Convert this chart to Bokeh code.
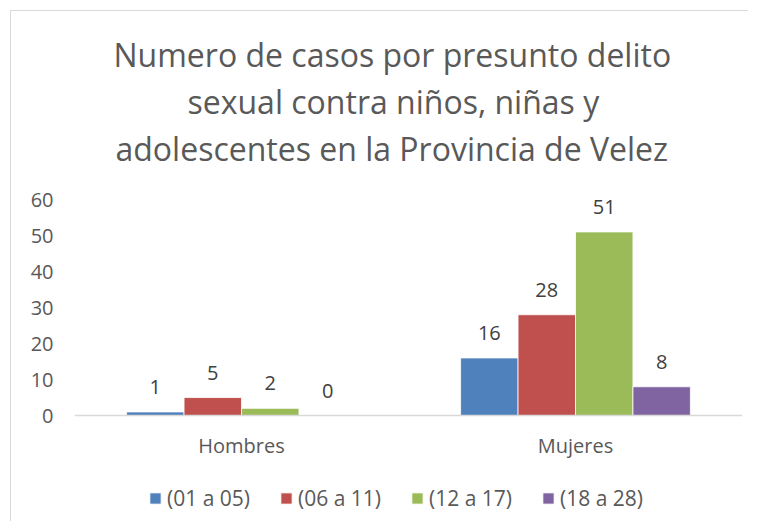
from bokeh.plotting import figure
from bokeh.models import (FactorRange, Range1d, ColumnDataSource, Title, Legend, LegendItem,
                          LabelSet, Span)
from bokeh.core.properties import value
from bokeh.transform import dodge
from bokeh.embed import file_html
from bokeh.resources import INLINE

# ---- data ----
categories = ["Hombres", "Mujeres"]
series_names = ["(01 a 05)", "(06 a 11)", "(12 a 17)", "(18 a 28)"]
val_01_05 = [1, 16]
val_06_11 = [5, 28]
val_12_17 = [2, 51]
val_18_28 = [0, 8]
title_lines = ["Numero de casos por presunto delito",
               "sexual contra niños, niñas y",
               "adolescentes en la Provincia de Velez"]
y_ticks = [0, 10, 20, 30, 40, 50, 60]

colors = ["#4F81BD", "#C0504D", "#9BBB59", "#8064A2"]
FONT = "Open Sans"
title_left_offsets = [39, 113, 41]   # pixel indent of each (left-aligned) title line

p = figure(width=738, height=511, x_range=FactorRange(factors=categories),
           y_range=Range1d(-29.7, 60), output_backend="svg", toolbar_location=None,
           min_border_left=63, min_border_right=7, min_border_bottom=0, min_border_top=188)
p.margin = (10, 0, 0, 10)
p.styles = {"border-top": "1px solid #d9d9d9", "border-left": "1px solid #d9d9d9"}
p.outline_line_color = None
p.background_fill_color = "white"
p.border_fill_color = "white"
p.xgrid.visible = False
p.ygrid.visible = False
p.xaxis.visible = False

src = ColumnDataSource(dict(cat=categories, v0=val_01_05, v1=val_06_11, v2=val_12_17, v3=val_18_28,
                            t0=[str(v) for v in val_01_05], t1=[str(v) for v in val_06_11],
                            t2=[str(v) for v in val_12_17], t3=[str(v) for v in val_18_28],
                            zero=[0] * len(categories)))

bw = 0.172
offsets = [-1.5 * bw, -0.5 * bw, 0.5 * bw, 1.5 * bw]
items = []
for i, (name, col) in enumerate(zip(series_names, colors)):
    r = p.vbar(x=dodge("cat", offsets[i], range=p.x_range), top=f"v{i}", bottom=0, width=bw,
               source=src, fill_color=col, line_color="white", line_width=0.8)
    items.append(LegendItem(label=name, renderers=[r]))
    lab = LabelSet(x=dodge("cat", offsets[i], range=p.x_range), y=f"v{i}", text=f"t{i}", source=src,
                   text_align="center", text_baseline="bottom", y_offset=18,
                   text_font=value(FONT), text_font_size="20px", text_color="#404040")
    p.add_layout(lab)

# category axis line and labels
p.add_layout(Span(location=0, dimension="width", line_color="#d9d9d9", line_width=1.5))
cat_labels = LabelSet(x="cat", y="zero", text="cat", source=src, text_align="center",
                      text_baseline="middle", y_offset=-30, text_font=value(FONT),
                      text_font_size="20px", text_color="#595959")
p.add_layout(cat_labels)

# y axis
p.yaxis.ticker = y_ticks
p.yaxis.axis_line_color = None
p.yaxis.major_tick_line_color = None
p.yaxis.major_tick_out = 0
p.yaxis.minor_tick_line_color = None
p.yaxis.major_label_text_font = FONT
p.yaxis.major_label_text_font_size = "20px"
p.yaxis.major_label_text_color = "#595959"
p.yaxis.major_label_standoff = 21

legend = Legend(items=items, orientation="horizontal", location=(74, 10),
                label_text_font=FONT, label_text_font_size="21px", label_text_color="#595959",
                glyph_width=14, glyph_height=14, spacing=29, label_standoff=5,
                border_line_color=None, background_fill_alpha=0, padding=4, margin=0)
p.add_layout(legend, "center")

# spacer between title block and plot area
p.add_layout(Title(text=" ", text_font_size="21px", standoff=4), "above")
for line, off in zip(reversed(title_lines), reversed(title_left_offsets)):
    t = Title(text=line, align="left", offset=off, text_font=FONT, text_font_size="32px",
              text_font_style="normal", text_color="#595959", standoff=2)
    p.add_layout(t, "above")

open("out.html", "w").write(file_html(p, INLINE))
